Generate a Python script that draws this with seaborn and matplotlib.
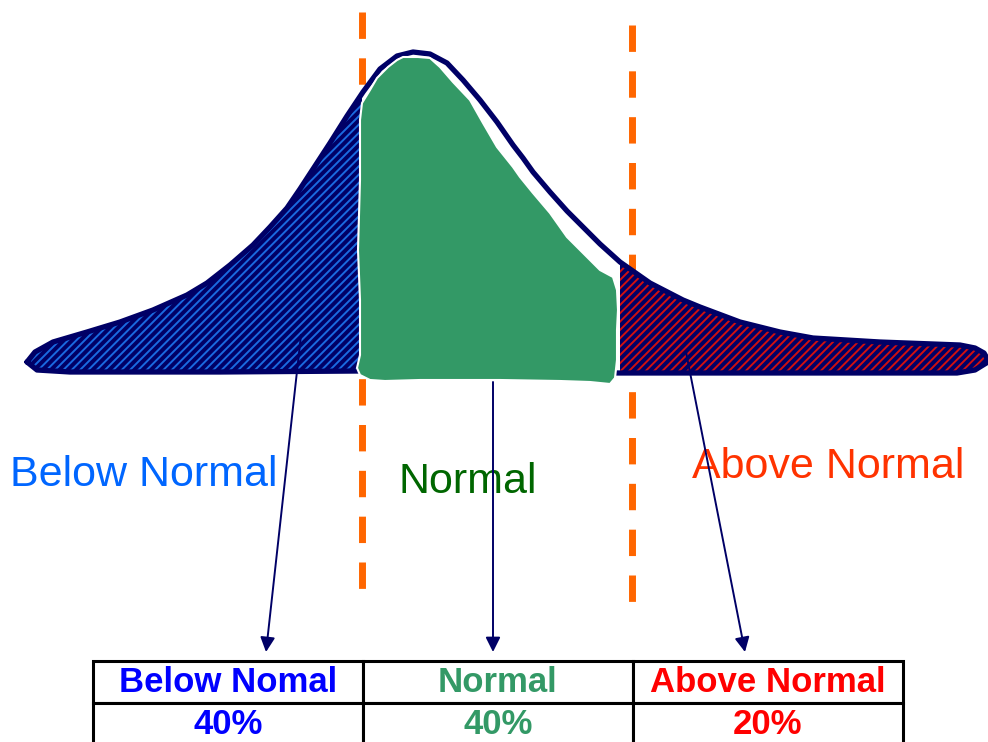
import numpy as np
import pandas as pd
import seaborn as sns
import matplotlib.pyplot as plt

sns.set_style("white")
plt.rcParams['font.family'] = ['Liberation Sans', 'DejaVu Sans']
plt.rcParams['hatch.linewidth'] = 1.4

# distribution outline (x right, y down like the image)
curve_x = [27, 35, 53, 87, 120, 153, 187, 207, 230, 253, 270, 287, 300, 315, 330, 347, 363,
           380, 397, 413, 430, 447, 463, 480, 497, 513, 523, 533, 550, 567, 585, 600, 620,
           650, 683, 700, 740, 780, 813, 880, 960, 975, 984, 988]
curve_y = [362, 352, 342, 332, 322, 310, 295, 283, 265, 245, 227, 208, 189, 166, 143, 116, 92,
           69, 56, 52, 54, 63, 80, 100, 122, 145, 158, 172, 192, 211, 229, 244, 262,
           283, 300, 307, 322, 332, 338, 342, 345, 348, 353, 360]
base_x = [27, 37, 70, 120, 220, 362, 620, 800, 957, 975, 988]
base_y = [362, 370, 372, 372, 372, 371, 373, 373, 373, 370, 362]

# middle (normal) band
green_x = [360, 362, 370, 377, 388, 397, 403, 418, 430, 440, 453, 470, 483, 497, 513, 520,
           533, 550, 567, 583, 600, 613, 617, 618, 617, 617, 615, 610, 590, 560, 500, 420,
           385, 370, 360, 357, 360, 360, 358, 360]
green_y = [120, 103, 90, 78, 67, 60, 57, 57, 58, 67, 82, 100, 123, 147, 167, 177,
           193, 213, 237, 253, 270, 277, 290, 310, 330, 360, 378, 384, 382, 381, 380, 380,
           381, 380, 375, 368, 355, 300, 250, 180]

cut_low = 362
cut_high = 620
cut_lines = [362, 632]
cut_top = [12, 25]
cut_bottom = [595, 605]

labels = ["Below Normal", "Normal", "Above Normal"]
label_colors = ["#0066ff", "#006600", "#ff3300"]
label_x = [10, 398, 692]
label_y = [475, 482, 467]

arrow_start = [(301, 335), (493, 382), (686, 352)]
arrow_end = [(266, 652), (493, 652), (745, 652)]

table_head = ["Below Nomal", "Normal", "Above Normal"]
table_vals = ["40%", "40%", "20%"]
table_colors = ["#0000ff", "#339966", "#ff0000"]

fig = plt.figure(figsize=(9.88, 7.42), dpi=100)
ax = fig.add_axes([0, 0, 1, 1])
ax.set_xlim(0, 988)
ax.set_ylim(742, 0)
ax.axis('off')

cx = np.array(curve_x)
cy = np.array(curve_y)
bx = np.array(base_x)
by = np.array(base_y)

# left hatched tail
m = cx <= cut_low
mb = bx <= cut_low
ax.fill(np.r_[cx[m], cut_low, bx[mb][::-1]],
        np.r_[cy[m], np.interp(cut_low, cx, cy), by[mb][::-1]],
        facecolor='#000066', edgecolor='#1a6ae0', hatch='////', linewidth=0, zorder=2)

# right hatched tail
m = cx >= cut_high
mb = bx >= cut_high
ax.fill(np.r_[cx[m], bx[mb][::-1]], np.r_[cy[m], by[mb][::-1]],
        facecolor='#000066', edgecolor='#d01010', hatch='////', linewidth=0, zorder=2)

# outline
outline = pd.DataFrame({'x': np.r_[cx, bx[::-1]], 'y': np.r_[cy, by[::-1]]})
sns.lineplot(data=outline, x='x', y='y', sort=False, estimator=None,
             color='#000066', linewidth=3.8, ax=ax, zorder=3)
for ln in ax.lines:
    ln.set_solid_joinstyle('round')
    ln.set_solid_capstyle('round')

# normal band
ax.fill(green_x, green_y, facecolor='#339966', edgecolor='white', linewidth=1.5,
        joinstyle='round', zorder=4)

# dashed cut lines
for xc, yt, yb in zip(cut_lines, cut_top, cut_bottom):
    ax.plot([xc, xc], [yt, yb], color='#ff6600', linewidth=5,
            dashes=(3.8, 2.8), zorder=1)

# labels
for t, c, x, y in zip(labels, label_colors, label_x, label_y):
    ax.text(x, y, t, color=c, fontsize=31, ha='left', va='center', zorder=5)

# arrows
for s, e in zip(arrow_start, arrow_end):
    ax.annotate('', xy=e, xytext=s,
                arrowprops=dict(arrowstyle='-|>', color='#000066', lw=1.4,
                                mutation_scale=22, shrinkA=0, shrinkB=0),
                zorder=6)

# table
tbl = ax.table(cellText=[table_head, table_vals], cellLoc='center',
               bbox=[93 / 988, -3 / 742, 810 / 988, 84 / 742])
tbl.auto_set_font_size(False)
for (r, c), cell in tbl.get_celld().items():
    cell.set_linewidth(2.2)
    cell.set_edgecolor('black')
    txt = cell.get_text()
    txt.set_color(table_colors[c])
    txt.set_fontweight('bold')
    txt.set_fontsize(25)

fig.savefig('out.png', dpi=100)
